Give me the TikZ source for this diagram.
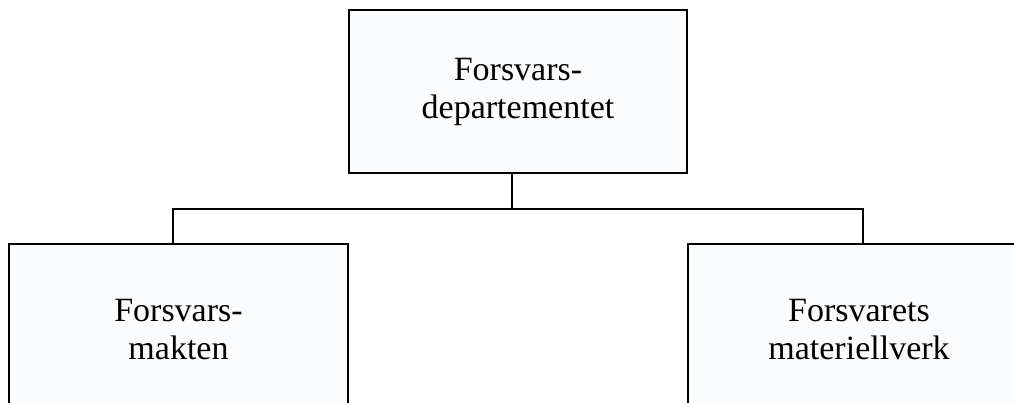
\documentclass[tikz,border=0pt]{standalone}
\usepackage{fontspec}
\setmainfont{Liberation Serif}
\definecolor{boxfill}{HTML}{FAFCFE}
\begin{document}
\begin{tikzpicture}[x=1pt,y=-1pt,
  orgbox/.style={draw=black, line width=1.8pt, fill=boxfill, align=center,
    inner sep=0pt, font=\fontsize{34}{38}\selectfont},
  link/.style={draw=black, line width=1.8pt}]
\useasboundingbox (0,0) rectangle (1014,402);
\clip (0,0) rectangle (1014,402);
% ministry on top
\node[orgbox, minimum width=338pt, minimum height=163pt] (dep) at (518,91.5)
  {Forsvars-\\departementet};
% subordinate agencies
\node[orgbox, minimum width=339pt, minimum height=171pt] (fm) at (178.5,329.5)
  {Forsvars-\\makten};
\node[orgbox, minimum width=342pt, minimum height=171pt] (fmv) at (859,329.5)
  {Forsvarets\\materiellverk};
% tree connectors
\coordinate (bus) at (512,209);
\draw[link] ([xshift=-6pt]dep.south) -- (bus);
\draw[link] ([xshift=-5.5pt]fm.north) |- (bus) -| ([xshift=4pt]fmv.north);
\end{tikzpicture}
\end{document}
